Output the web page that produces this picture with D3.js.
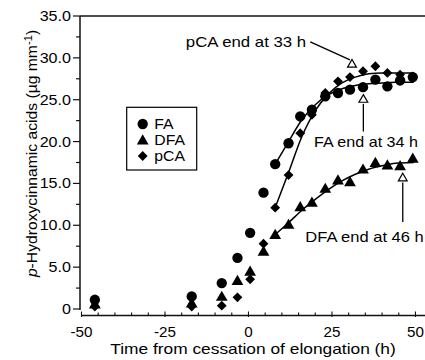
<!DOCTYPE html>
<html>
<head>
<meta charset="utf-8">
<script src="https://cdn.jsdelivr.net/npm/d3@7"></script>
<style>
  body { margin: 0; background: #fff; }
  text { font-family: "Liberation Sans", Arial, sans-serif; fill: #000; }
</style>
</head>
<body>
<div id="chart"></div>
<script>
// hours from cessation of elongation
var time = [-46, -17, -8, -3.3, 0.5, 4.5, 8, 12, 15.5, 19, 23, 26.8, 30.4, 34.3, 38, 41.6, 45.4, 49.2];
var fa  = [1.1, 1.5, 3.1, 6.1, 9.1, 13.9, 17.3, 19.8, 23.0, 23.8, 25.4, 25.8, 26.2, 26.5, 27.4, 26.6, 27.3, 27.7];
var dfa = [0.6, 0.7, 1.5, 3.4, 4.5, 6.9, 8.9, 10.1, 12.2, 12.75, 14.4, 15.4, 15.2, 16.7, 17.5, 17.2, 17.1, 18.0];
var pca = [0.3, 0.3, 0.4, 1.4, 3.55, 7.8, 12.1, 16.0, 21.0, 23.2, 25.8, 27.2, 27.7, 28.4, 29.0, 28.2, 28.0, 27.8];

// fitted curves
var fitTime = [8, 12, 16, 20, 24, 28, 32, 36, 40, 44, 49.5];
var faFit  = [17.3, 20.0, 22.6, 24.4, 25.6, 26.3, 26.7, 26.9, 27.0, 27.1, 27.1];
var dfaFit = [8.9, 10.3, 11.8, 13.1, 14.3, 15.3, 16.1, 16.7, 17.1, 17.4, 17.5];
var pcaFit = [12.1, 16.3, 20.6, 23.7, 25.7, 27.0, 27.7, 28.1, 28.2, 28.2, 28.2];

var xTicks = [-50, -25, 0, 25, 50];
var yTicks = [0, 5, 10, 15, 20, 25, 30, 35];
var seriesNames = ["FA", "DFA", "pCA"];

var svg = d3.select("#chart").append("svg")
    .attr("width", 425)
    .attr("height", 360);

var x = d3.scaleLinear().domain([-50, 52.8]).range([81.5, 424.8]);
var y = d3.scaleLinear().domain([0, 35]).range([309, 16]);

function label(g, px, py, str, size, sx, anchor) {
    return g.append("text")
        .attr("transform", "translate(" + px + "," + py + ") scale(" + sx + ",1)")
        .attr("text-anchor", anchor || "start")
        .style("font-size", size + "px")
        .text(str);
}

var shapes = {
    FA: d3.symbol().type(d3.symbolCircle).size(84),
    DFA: d3.symbol().type(d3.symbolTriangle).size(60),
    pCA: d3.symbol().type(d3.symbolSquare).size(48)
};
function mark(g, name, px, py) {
    g.append("path")
        .attr("d", shapes[name]())
        .attr("transform", "translate(" + px + "," + py + ")" + (name == "pCA" ? " rotate(45)" : name == "DFA" ? " translate(0,1)" : ""))
        .attr("fill", "#000");
}

// axes
var axes = svg.append("g").attr("stroke", "#111").attr("stroke-width", 1.5);
axes.append("line").attr("x1", 80).attr("x2", 80).attr("y1", y(35)).attr("y2", y(0) + 1);
axes.append("line").attr("x1", 80).attr("x2", 425).attr("y1", y(35)).attr("y2", y(35)).attr("stroke-width", 1.3);
axes.append("line").attr("x1", x(-50)).attr("x2", 425).attr("y1", 315.5).attr("y2", 315.5);

d3.range(0, 35.1, 2.5).forEach(function(v) {
    var major = v % 5 == 0;
    axes.append("line").attr("x1", major ? 73 : 76).attr("x2", 80)
        .attr("y1", y(v)).attr("y2", y(v)).attr("stroke-width", 1.2);
});
d3.range(-50, 52, 5).forEach(function(v) {
    var major = v % 25 == 0;
    axes.append("line").attr("x1", x(v)).attr("x2", x(v))
        .attr("y1", major ? 311.5 : 312.5).attr("y2", major ? 317 : 315.5).attr("stroke-width", 1.1);
});

yTicks.forEach(function(v) {
    label(svg, 71, y(v) + 5, v == 0 ? "0" : v.toFixed(1), 14, 1.15, "end");
});
xTicks.forEach(function(v) {
    label(svg, x(v), 336.5, v, 14.5, 1.05, "middle");
});

label(svg, 253, 354, "Time from cessation of elongation (h)", 14, 1.24, "middle");

var yt = svg.append("text")
    .attr("transform", "translate(37,153.5) rotate(-90) scale(1.12,1)")
    .attr("text-anchor", "middle")
    .style("font-size", "14px");
yt.append("tspan").style("font-style", "italic").text("p");
yt.append("tspan").text("-Hydroxycinnamic acids (\u00b5g mm");
yt.append("tspan").attr("dy", -5).style("font-size", "10px").text("-1");
yt.append("tspan").attr("dy", 5).text(")");

// fitted lines
var line = d3.line()
    .x(function(d) { return x(d[0]); })
    .y(function(d) { return y(d[1]); })
    .curve(d3.curveMonotoneX);
[faFit, dfaFit, pcaFit].forEach(function(f) {
    svg.append("path")
        .attr("d", line(fitTime.map(function(t, i) { return [t, f[i]]; })))
        .attr("fill", "none")
        .attr("stroke", "#000")
        .attr("stroke-width", 1.5);
});

// points
var pts = svg.append("g");
time.forEach(function(t, i) {
    mark(pts, "FA", x(t), y(fa[i]));
    mark(pts, "DFA", x(t), y(dfa[i]));
    mark(pts, "pCA", x(t), y(pca[i]));
});

// end-of-accumulation annotations
var openTri = d3.symbol().type(d3.symbolTriangle).size(34);
function endMark(t, v) {
    svg.append("path")
        .attr("d", openTri())
        .attr("transform", "translate(" + x(t) + "," + y(v) + ")")
        .attr("fill", "#fff")
        .attr("stroke", "#000")
        .attr("stroke-width", 1.2);
}
var ann = svg.append("g").attr("stroke", "#000").attr("stroke-width", 1.3);

ann.append("line").attr("x1", x(18.5)).attr("y1", y(31.9)).attr("x2", x(30.4)).attr("y2", y(29.75));
endMark(31, 29.2);
label(svg, 246, 47, "pCA end at 33 h", 14, 1.2, "middle");

ann.append("line").attr("x1", x(34.4)).attr("x2", x(34.4)).attr("y1", y(24.5)).attr("y2", y(21.2));
endMark(34.4, 25.0);
label(svg, 366, 146.5, "FA end at 34 h", 14, 1.15, "middle");

ann.append("line").attr("x1", x(46.2)).attr("x2", x(46.2)).attr("y1", y(15.1)).attr("y2", y(10.4));
endMark(46.2, 15.6);
label(svg, 364.5, 241.5, "DFA end at 46 h", 14, 1.18, "middle");

// legend
var legend = svg.append("g");
legend.append("rect")
    .attr("x", 126.7).attr("y", 107.3).attr("width", 70).attr("height", 62.7)
    .attr("fill", "#fff").attr("stroke", "#000").attr("stroke-width", 1.2);
seriesNames.forEach(function(n, i) {
    var ly = 124 + i * 16;
    mark(legend, n, 142.7, ly);
    label(legend, 154.3, ly + 5, n, 14, 1.13);
});
</script>
</body>
</html>
